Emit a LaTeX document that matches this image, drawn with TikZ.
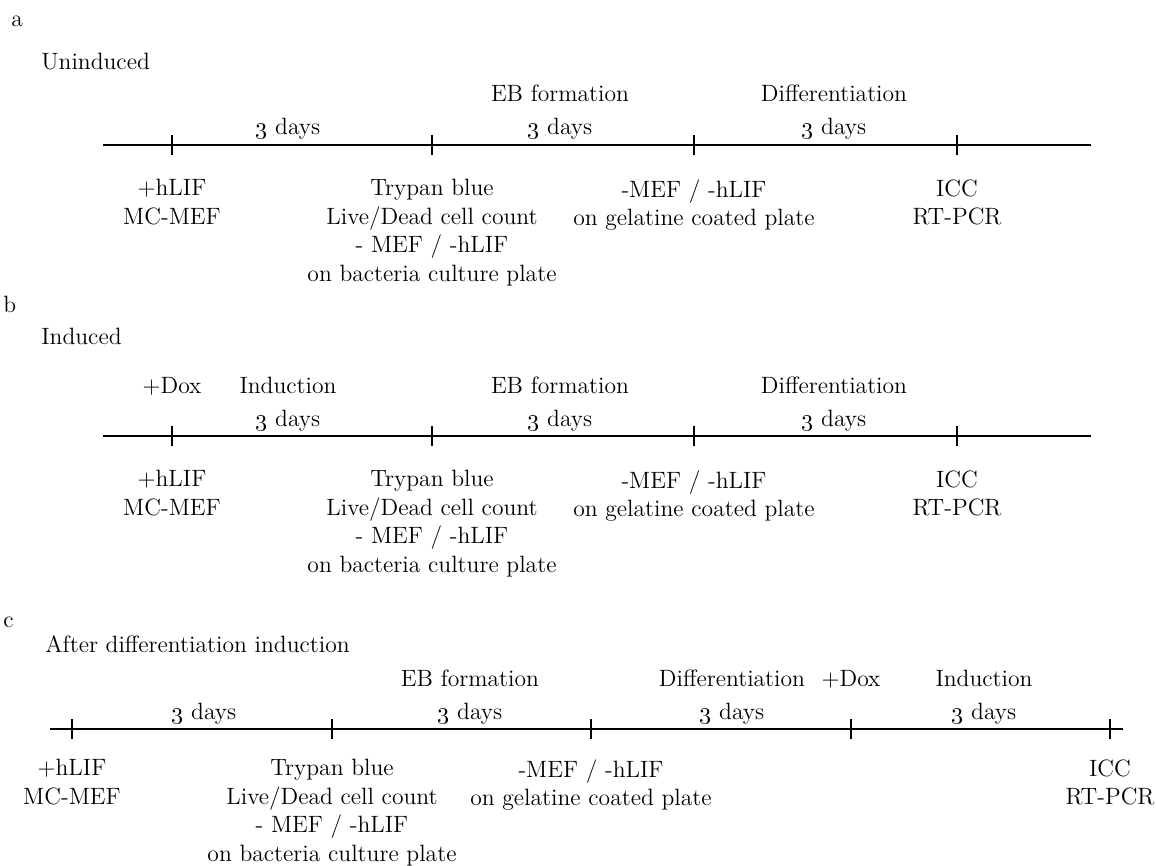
\documentclass[tikz,border=0pt]{standalone}
\usepackage{tikz}

\newcommand{\tdays}{\oldstylenums{3} days}
\tikzset{
  lbl/.style={inner sep=0pt, align=center, anchor=north},
  phase/.style={inner sep=0pt, text height=0.7em, text depth=0.2em},
  ttl/.style={inner sep=0pt, anchor=base west},
  timeline/.style={line width=1pt},
  tickmark/.style={line width=0.7pt}
}

\begin{document}
\begin{tikzpicture}[x=0.5pt, y=-0.5pt, font=\fontsize{11.8pt}{14.3pt}\selectfont]
 \useasboundingbox (0,0) rectangle (1156,866);

 % a: uninduced
 \node[ttl] (aletter) at (11,27) {a};
 \node[ttl] (atitle) at (41,70) {Uninduced};
 \coordinate (aS) at (103,145);
 \coordinate (aE) at (1091,145);
 \coordinate (aT1) at (172,145);
 \coordinate (aT2) at (432,145);
 \coordinate (aT3) at (694,145);
 \coordinate (aT4) at (957,145);
 \draw[timeline] (aS) -- (aE);
 \foreach \t in {aT1,aT2,aT3,aT4}
  \draw[tickmark] (\t) ++(0,-10) -- ++(0,20);
 \node[phase] (aD1) at (288,130) {\tdays};
 \node[phase] (aD2) at (560,130) {\tdays};
 \node[phase] (aD3) at (834,130) {\tdays};
 \node[phase,above of=aD2,node distance=16.5pt] (aEB) {EB formation};
 \node[phase,above of=aD3,node distance=16.5pt] (aDiff) {Differentiation};
 \node[lbl] (aL1) at (172,179) {+hLIF\\MC-MEF};
 \node[lbl] (aL2) at (432,179) {Trypan blue\\Live/Dead cell count\\- MEF / -hLIF\\on bacteria culture plate};
 \node[lbl] (aL3) at (694,179) {-MEF / -hLIF\\on gelatine coated plate};
 \node[lbl] (aL4) at (957,179) {ICC\\RT-PCR};

 % b: induced
 \node[ttl] (bletter) at (3,313) {b};
 \node[ttl] (btitle) at (41,344) {Induced};
 \coordinate (bS) at (103,436);
 \coordinate (bE) at (1091,436);
 \coordinate (bT1) at (172,436);
 \coordinate (bT2) at (432,436);
 \coordinate (bT3) at (694,436);
 \coordinate (bT4) at (957,436);
 \draw[timeline] (bS) -- (bE);
 \foreach \t in {bT1,bT2,bT3,bT4}
  \draw[tickmark] (\t) ++(0,-10) -- ++(0,20);
 \node[phase] (bD1) at (288,421) {\tdays};
 \node[phase] (bD2) at (560,421) {\tdays};
 \node[phase] (bD3) at (834,421) {\tdays};
 \node[phase,above of=bT1,node distance=24pt] (bDox) {+Dox};
 \node[phase,above of=bD1,node distance=16.5pt] (bInd) {Induction};
 \node[phase,above of=bD2,node distance=16.5pt] (bEB) {EB formation};
 \node[phase,above of=bD3,node distance=16.5pt] (bDiff) {Differentiation};
 \node[lbl] (bL1) at (172,470) {+hLIF\\MC-MEF};
 \node[lbl] (bL2) at (432,470) {Trypan blue\\Live/Dead cell count\\- MEF / -hLIF\\on bacteria culture plate};
 \node[lbl] (bL3) at (694,470) {-MEF / -hLIF\\on gelatine coated plate};
 \node[lbl] (bL4) at (957,470) {ICC\\RT-PCR};

 % c: after differentiation induction
 \node[ttl] (cletter) at (3,627) {c};
 \node[ttl] (ctitle) at (45,652) {After differentiation induction};
 \coordinate (cS) at (50,729);
 \coordinate (cE) at (1123,729);
 \coordinate (cT1) at (72,729);
 \coordinate (cT2) at (332,729);
 \coordinate (cT3) at (591,729);
 \coordinate (cT4) at (851,729);
 \coordinate (cT5) at (1110,729);
 \draw[timeline] (cS) -- (cE);
 \foreach \t in {cT1,cT2,cT3,cT4,cT5}
  \draw[tickmark] (\t) ++(0,-10) -- ++(0,20);
 \node[phase] (cD1) at (204,714) {\tdays};
 \node[phase] (cD2) at (470,714) {\tdays};
 \node[phase] (cD3) at (732,714) {\tdays};
 \node[phase] (cD4) at (984,714) {\tdays};
 \node[phase,above of=cD2,node distance=16.5pt] (cEB) {EB formation};
 \node[phase,above of=cD3,node distance=16.5pt] (cDiff) {Differentiation};
 \node[phase,above of=cT4,node distance=24pt] (cDox) {+Dox};
 \node[phase,above of=cD4,node distance=16.5pt] (cInd) {Induction};
 \node[lbl] (cL1) at (72,759) {+hLIF\\MC-MEF};
 \node[lbl] (cL2) at (332,759) {Trypan blue\\Live/Dead cell count\\- MEF / -hLIF\\on bacteria culture plate};
 \node[lbl] (cL3) at (591,759) {-MEF / -hLIF\\on gelatine coated plate};
 \node[lbl] (cL5) at (1110,759) {ICC\\RT-PCR};
\end{tikzpicture}
\end{document}
